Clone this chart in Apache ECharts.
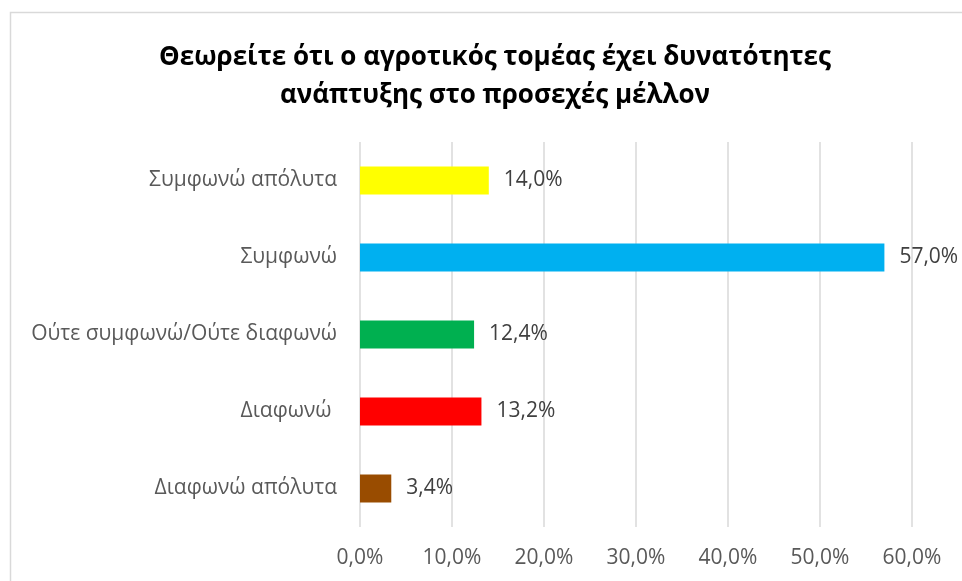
<!DOCTYPE html>
<html>
<head>
<meta charset="utf-8">
<script src="https://cdn.jsdelivr.net/npm/echarts@6/dist/echarts.min.js"></script>
<style>
  html, body { margin: 0; padding: 0; background: #ffffff; }
  #chart { width: 962px; height: 581px; }
</style>
</head>
<body>
<div id="chart"></div>
<script>
// Survey answers, listed top to bottom
const categories = [
  'Συμφωνώ απόλυτα',
  'Συμφωνώ',
  'Ούτε συμφωνώ/Ούτε διαφωνώ',
  'Διαφωνώ ',
  'Διαφωνώ απόλυτα'
];
const values = [14.0, 57.0, 12.4, 13.2, 3.4];
const barColors = ['#FFFF00', '#00B0F0', '#00B050', '#FF0000', '#994C00'];
const tickLabels = ['0,0%', '10,0%', '20,0%', '30,0%', '40,0%', '50,0%', '60,0%'];

const titleText = 'Θεωρείτε ότι ο αγροτικός τομέας έχει δυνατότητες\nανάπτυξης στο προσεχές μέλλον';
const FONT = '"Open Sans", "Noto Sans", sans-serif';

const fmt = v => v.toFixed(1).replace('.', ',') + '%';

const chart = echarts.init(document.getElementById('chart'), null, { renderer: 'canvas' });

chart.setOption({
  backgroundColor: '#ffffff',
  animation: false,
  graphic: [{
    type: 'rect',
    shape: { x: 10.5, y: 12.5, width: 1200, height: 1200 },
    style: { fill: 'none', stroke: '#d9d9d9', lineWidth: 1.5 },
    silent: true
  }],
  title: {
    text: titleText,
    left: 490,
    top: 34,
    textAlign: 'center',
    textStyle: {
      fontFamily: FONT,
      fontWeight: 'bold',
      fontSize: 26,
      lineHeight: 38,
      color: '#000000'
    }
  },
  grid: { left: 360, right: 50, top: 142, bottom: 54, containLabel: false },
  xAxis: {
    type: 'value',
    min: 0,
    max: 60,
    interval: 10,
    axisLine: { show: false },
    axisTick: { show: false },
    splitLine: { show: true, lineStyle: { color: '#d9d9d9', width: 1.5 } },
    axisLabel: {
      margin: 21,
      fontFamily: FONT,
      fontSize: 21,
      color: '#595959',
      formatter: v => tickLabels[Math.round(v / 10)]
    }
  },
  yAxis: {
    type: 'category',
    inverse: true,
    data: categories,
    axisLine: { show: false },
    axisTick: { show: false },
    axisLabel: {
      margin: 23,
      fontFamily: FONT,
      fontSize: 21,
      color: '#595959'
    }
  },
  series: [{
    type: 'bar',
    barWidth: 28,
    data: values.map((v, i) => ({ value: v, itemStyle: { color: barColors[i] } })),
    label: {
      show: true,
      position: 'right',
      distance: 15,
      fontFamily: FONT,
      fontSize: 21,
      color: '#404040',
      formatter: p => fmt(p.value)
    }
  }]
});
</script>
</body>
</html>
